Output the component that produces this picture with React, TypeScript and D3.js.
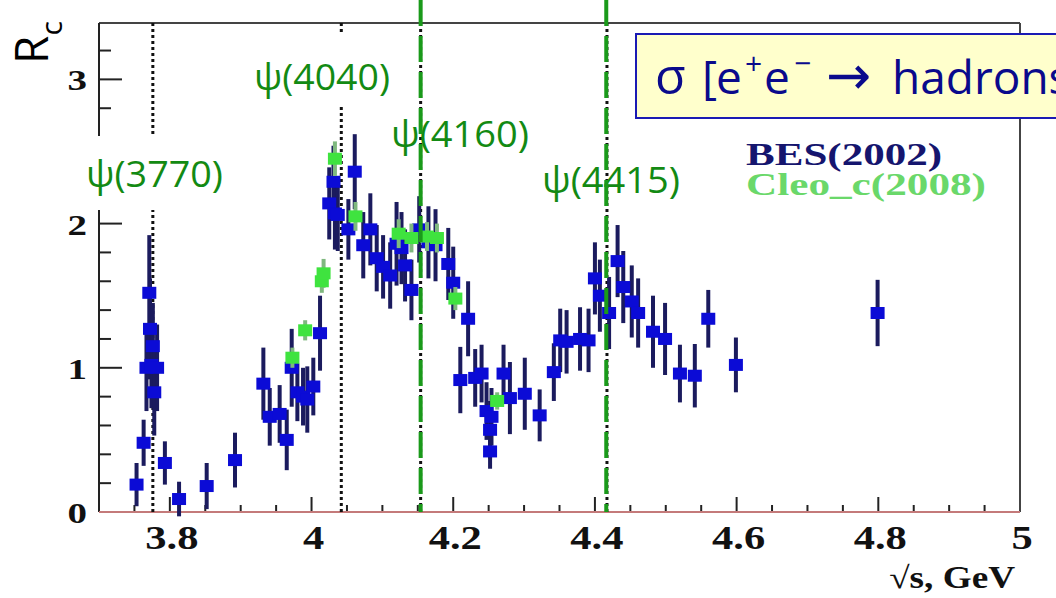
import React from 'react';
import * as d3 from 'd3';

// BES (2002) R scan
const besEnergy = [
  3.753, 3.763, 3.767, 3.771, 3.772, 3.774, 3.776, 3.778, 3.782, 3.793, 3.813, 3.852, 3.892,
  3.932, 3.941, 3.955, 3.965, 3.972, 3.980, 3.988, 3.994, 4.0025, 4.012,
  4.025, 4.031, 4.033, 4.037, 4.052, 4.061, 4.073, 4.083, 4.092, 4.101, 4.111,
  4.120, 4.127, 4.132, 4.141, 4.152, 4.165, 4.175, 4.193, 4.200, 4.210, 4.221,
  4.231, 4.240, 4.247, 4.252, 4.252, 4.254, 4.271, 4.280, 4.301, 4.322,
  4.342, 4.351, 4.360, 4.379, 4.391, 4.400, 4.407, 4.420, 4.432, 4.440, 4.452,
  4.461, 4.482, 4.499, 4.520, 4.541, 4.560, 4.599, 4.799,
];
const besR = [
  0.19, 0.48, 1.0, 1.52, 1.27, 1.02, 1.15, 0.83, 1.0, 0.34, 0.09, 0.18, 0.36,
  0.89, 0.66, 0.68, 0.50, 1.0, 0.83, 0.80, 0.78, 0.87, 1.24,
  2.14, 2.29, 2.07, 2.06, 1.96, 2.36, 1.85, 1.96, 1.76, 1.70, 1.64,
  1.86, 1.83, 1.71, 1.54, 1.96, 1.87, 1.85, 1.72, 1.59, 0.915, 1.34,
  0.93, 0.96, 0.70, 0.57, 0.42, 0.66, 0.96, 0.79, 0.82, 0.67,
  0.97, 1.19, 1.18, 1.20, 1.19, 1.62, 1.50, 1.38, 1.74, 1.56, 1.46,
  1.38, 1.25, 1.20, 0.96, 0.945, 1.34, 1.02, 1.38,
];
const besErr = [
  0.15, 0.16, 0.3, 0.4, 0.35, 0.3, 0.3, 0.3, 0.3, 0.15, 0.12, 0.16, 0.19,
  0.25, 0.2, 0.2, 0.21, 0.27, 0.2, 0.2, 0.23, 0.2, 0.26,
  0.25, 0.25, 0.25, 0.25, 0.21, 0.26, 0.23, 0.25, 0.23, 0.22, 0.23,
  0.29, 0.25, 0.25, 0.21, 0.23, 0.25, 0.25, 0.25, 0.25, 0.23, 0.26,
  0.2, 0.2, 0.2, 0.2, 0.12, 0.2, 0.2, 0.25, 0.25, 0.18,
  0.2, 0.22, 0.22, 0.22, 0.22, 0.25, 0.25, 0.25, 0.25, 0.25, 0.25,
  0.24, 0.25, 0.25, 0.2, 0.22, 0.2, 0.19, 0.23,
];

// CLEO-c (2008)
const cleoEnergy = [3.973, 3.991, 4.0145, 4.017, 4.033, 4.062, 4.123, 4.141, 4.163, 4.177, 4.203, 4.262];
const cleoR = [1.07, 1.26, 1.60, 1.655, 2.45, 2.05, 1.93, 1.90, 1.91, 1.90, 1.48, 0.77];
const cleoErr = [0.07, 0.07, 0.08, 0.1, 0.12, 0.1, 0.1, 0.1, 0.1, 0.1, 0.08, 0.06];

const resonanceLabels = ['ψ(3770)', 'ψ(4040)', 'ψ(4160)', 'ψ(4415)'];
const resonanceMass = [3.776, 4.042, 4.154, 4.417];
const dashedMass = [4.154, 4.416];

const xTickValues = [3.8, 4.0, 4.2, 4.4, 4.6, 4.8, 5.0];
const xTickLabels = ['3.8', '4', '4.2', '4.4', '4.6', '4.8', '5'];
const yTickValues = [0, 1, 2, 3];
const yTickLabels = ['0', '1', '2', '3'];
const legendNames = ['BES(2002)', 'Cleo_c(2008)'];

const W = 1056;
const H = 598;
const left = 99, right = 1020, top = 23, bottom = 512;

// where the resonance labels sit (left x, baseline y, text width, optional white patch)
const labelLayout = [
  { x: 86, y: 187, w: 137, box: [80, 136, 155, 74] },
  { x: 254, y: 90, w: 136, box: [245, 33, 153, 74] },
  { x: 391, y: 147, w: 138, box: null },
  { x: 542, y: 193, w: 138, box: null },
];

const serif = '"Liberation Serif", "DejaVu Serif", serif';
const sans = '"Open Sans", "Noto Sans", sans-serif';

export default function App() {
  const x = d3.scaleLinear().domain([3.7, 5.0]).range([left, right]);
  const y = d3.scaleLinear().domain([0, 3.391]).range([bottom, top]);

  const isMajor = (v: number, step: number) => Math.abs(v / step - Math.round(v / step)) < 1e-6;
  const xMinor = x.ticks(26).filter((v) => v > 3.71 && v < 4.99 && !isMajor(v, 0.2));
  const xMajor = x.ticks(26).filter((v) => v > 3.71 && v < 4.99 && isMajor(v, 0.2));
  const yMinor = y.ticks(17).filter((v) => v > 0 && !isMajor(v, 1));

  const bes = besEnergy.map((e, i) => ({ e, r: besR[i], err: besErr[i] }));
  const cleo = cleoEnergy.map((e, i) => ({ e, r: cleoR[i], err: cleoErr[i] }));

  const boxW = 14, boxH = 12;

  return (
    <svg width={W} height={H} style={{ position: 'absolute', left: 0, top: 0, background: '#fff' }}>
      <rect x={0} y={0} width={W} height={H} fill="#fff" />

      {/* frame */}
      <line x1={left} x2={right} y1={top} y2={top} stroke="#444" strokeWidth={2} />
      <line x1={right} x2={right} y1={top} y2={bottom} stroke="#444" strokeWidth={2} />
      <line x1={left} x2={left} y1={top} y2={bottom} stroke="#222" strokeWidth={2} />

      {/* y ticks */}
      {yTickValues.map((v) => (
        <line key={'ym' + v} x1={left} x2={left + 23} y1={y(v)} y2={y(v)} stroke="#222" strokeWidth={2} />
      ))}
      {yMinor.map((v) => (
        <line key={'yn' + v} x1={left} x2={left + 12} y1={y(v)} y2={y(v)} stroke="#222" strokeWidth={2} />
      ))}
      {/* x ticks */}
      {xMajor.map((v) => (
        <line key={'xm' + v} x1={x(v)} x2={x(v)} y1={bottom} y2={bottom - 15} stroke="#222" strokeWidth={2} />
      ))}
      {xMinor.map((v) => (
        <line key={'xn' + v} x1={x(v)} x2={x(v)} y1={bottom} y2={bottom - 7} stroke="#222" strokeWidth={2} />
      ))}
      <line x1={left} x2={right} y1={bottom} y2={bottom} stroke="#c47a7a" strokeWidth={2} />

      {/* resonance positions */}
      {resonanceMass.map((m, i) => (
        <line key={'res' + i} x1={x(m)} x2={x(m)} y1={top} y2={bottom}
          stroke="#111" strokeWidth={3} strokeDasharray="3 3" />
      ))}

      {/* BES points */}
      {bes.map((d, i) => (
        <line key={'be' + i} x1={x(d.e)} x2={x(d.e)} y1={y(d.r - d.err)} y2={y(d.r + d.err)}
          stroke="#1b1b5e" strokeWidth={4} />
      ))}
      {bes.map((d, i) => (
        <rect key={'bp' + i} x={x(d.e) - boxW / 2} y={y(d.r) - boxH / 2} width={boxW} height={boxH} fill="#0b0bd6" />
      ))}

      {/* CLEO points */}
      {cleo.map((d, i) => (
        <line key={'ce' + i} x1={x(d.e)} x2={x(d.e)} y1={y(d.r - d.err)} y2={y(d.r + d.err)}
          stroke="#7fb87f" strokeWidth={4} />
      ))}
      {cleo.map((d, i) => (
        <rect key={'cp' + i} x={x(d.e) - boxW / 2} y={y(d.r) - boxH / 2} width={boxW} height={boxH} fill="#3fe33f" />
      ))}

      {/* resonance labels */}
      {labelLayout.map((l, i) =>
        l.box ? <rect key={'lb' + i} x={l.box[0]} y={l.box[1]} width={l.box[2]} height={l.box[3]} fill="#fff" /> : null
      )}
      {labelLayout.map((l, i) => (
        <text key={'lt' + i} x={l.x} y={l.y} fontFamily={sans} fontSize={37} fill="#138a13"
          textLength={l.w} lengthAdjust="spacingAndGlyphs">
          {resonanceLabels[i]}
        </text>
      ))}

      {/* process box */}
      <rect x={636} y={34} width={500} height={84} fill="#ffffcc" stroke="#1a1ab4" strokeWidth={2} />
      <text y={94} fontFamily={sans} fontSize={46} fill="#0a0a8c">
        <tspan x={655} fontSize={50}>σ</tspan>
        <tspan x={702}>[</tspan>
        <tspan x={716}>e</tspan>
        <tspan x={745} fontSize={30} dy={-20}>+</tspan>
        <tspan x={764} dy={20}>e</tspan>
        <tspan x={794} fontSize={30} dy={-20}>−</tspan>
        <tspan x={826} dy={20} fontFamily='"DejaVu Sans", sans-serif' fontSize={54}>→</tspan>
        <tspan x={892}>hadrons</tspan>
      </text>

      {/* legend */}
      <text x={746} y={165} fontFamily={serif} fontWeight="bold" fontSize={31} fill="#15156e"
        textLength={196} lengthAdjust="spacingAndGlyphs">{legendNames[0]}</text>
      <text x={746} y={195} fontFamily={serif} fontWeight="bold" fontSize={31} fill="#6ad86a"
        textLength={240} lengthAdjust="spacingAndGlyphs">{legendNames[1]}</text>

      {/* green dashed markers */}
      {dashedMass.map((m, i) => (
        <line key={'gd' + i} x1={x(m)} x2={x(m)} y1={0} y2={bottom}
          stroke="#1a9a1a" strokeWidth={4} strokeDasharray="26 10" />
      ))}

      {/* tick labels */}
      {xTickValues.map((v, i) => (
        <text key={'xl' + i} transform={`translate(${x(v) + 2},${549}) scale(1.25,1)`}
          textAnchor="middle" fontFamily={serif} fontWeight="bold" fontSize={34} fill="#111">
          {xTickLabels[i]}
        </text>
      ))}
      {yTickValues.map((v, i) => (
        <text key={'yl' + i} transform={`translate(${87},${y(v) + 11}) scale(1.3,1)`}
          textAnchor="end" fontFamily={serif} fontWeight="bold" fontSize={30} fill="#111">
          {yTickLabels[i]}
        </text>
      ))}

      {/* axis titles */}
      <text transform={`translate(1015,588) scale(1.2,1)`} textAnchor="end" fontFamily={serif}
        fontWeight="bold" fontSize={31} fill="#111">√s, GeV</text>
      <text transform="translate(48,64) rotate(-90)" fontFamily={sans} fontSize={46} fill="#000">
        R<tspan fontSize={30} dy={14}>c</tspan>
      </text>
    </svg>
  );
}
